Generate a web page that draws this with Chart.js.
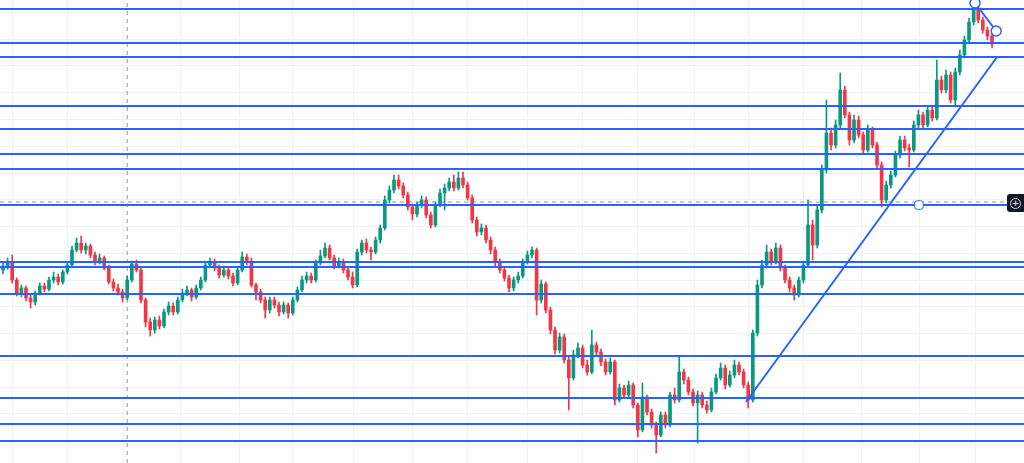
<!DOCTYPE html>
<html lang="en">

<head>
    <meta charset="UTF-8">
    <title>Price chart</title>
    <script src="https://cdn.jsdelivr.net/npm/chart.js"></script>
    <style>
        body { margin: 0; background: #ffffff; overflow: hidden; }
        .wrap { position: relative; width: 1024px; height: 463px; }
        canvas { display: block; }
        .zoom-btn {
            position: absolute; left: 1007px; top: 194px; width: 17px; height: 18px;
            background: #131722; border-radius: 3px 0 0 3px;
        }
        .zoom-btn span {
            position: absolute; left: 3px; top: 4px; width: 9px; height: 9px;
            border: 1px solid #d1d4dc; border-radius: 50%;
            color: #d1d4dc; font: bold 9px/9px "DejaVu Sans", sans-serif; text-align: center;
        }
    </style>
</head>

<body>
    <div class="wrap">
        <canvas id="priceChart" width="1024" height="463"></canvas>
        <div class="zoom-btn"><span>+</span></div>
    </div>

    <script>
        // candle values (one per bar, left to right)
        const open = [230,234,238,220,207,212,202,198,207,214,211,220,223,218,228,235,250,257,250,254,
            245,238,242,232,218,212,208,202,220,236,230,200,178,170,180,174,188,194,188,200,
            207,210,203,212,220,235,238,232,225,230,224,217,230,243,238,215,208,200,190,200,
            195,188,195,187,200,210,220,224,220,237,244,252,242,234,238,230,223,215,248,257,
            250,248,260,272,300,310,320,314,305,293,286,295,300,285,275,295,307,312,318,312,
            322,315,302,280,268,272,260,250,238,230,222,212,220,224,238,245,250,200,216,190,
            170,150,163,140,122,145,152,135,128,155,148,138,128,138,100,112,105,115,95,70,
            103,88,75,65,85,75,105,100,128,120,108,97,105,95,90,108,122,132,115,125,
            135,128,115,100,167,215,235,248,238,252,232,220,212,205,220,235,275,255,290,330,
            367,355,375,410,385,360,380,365,350,370,355,335,300,315,325,345,360,352,350,375,
            385,375,390,382,420,410,425,400,428,445,460,478,490,480,470,464];
        const close = [234,238,220,207,212,202,198,207,214,211,220,223,218,228,235,250,257,250,254,245,
            238,242,232,218,212,208,202,220,236,230,200,178,170,180,174,188,194,188,200,207,
            210,203,212,220,235,238,232,225,230,224,217,230,243,238,215,208,200,190,200,195,
            188,195,187,200,210,220,224,220,237,244,252,242,234,238,230,223,215,248,257,250,
            248,260,272,300,310,320,314,305,293,286,295,300,285,275,295,307,312,318,312,322,
            315,302,280,268,272,260,250,238,230,222,212,220,224,238,245,250,200,216,190,170,
            150,163,140,122,145,152,135,128,155,148,138,128,138,100,112,105,115,95,70,103,
            88,75,65,85,75,105,100,128,120,108,97,105,95,90,108,122,132,115,125,135,
            128,115,100,167,215,235,248,238,252,232,220,212,205,220,235,275,255,290,330,367,
            355,375,410,385,360,380,365,350,370,355,335,300,315,325,345,360,352,350,375,385,
            375,390,382,420,410,425,400,428,445,460,478,490,480,470,464,456];
        const high = [238,242,245,222,215,214,205,209,217,217,223,228,226,230,238,254,262,264,257,256,
            248,246,244,235,221,216,211,224,239,240,232,202,182,183,184,191,198,197,203,211,
            214,212,215,223,238,242,241,235,234,233,227,233,248,246,242,217,211,203,203,203,
            198,198,197,203,213,224,228,227,240,250,257,255,245,242,241,233,228,251,260,261,
            253,263,275,304,314,325,325,317,308,296,298,304,303,288,298,311,316,322,325,328,
            328,318,305,283,276,275,263,253,241,233,225,223,228,241,249,253,252,220,218,193,
            173,167,166,143,150,157,155,140,170,158,151,141,142,140,116,115,119,117,97,117,
            105,91,78,88,88,108,112,143,131,123,111,109,108,99,112,126,137,135,129,140,
            138,131,118,170,220,240,255,251,257,255,235,223,215,223,239,300,280,295,335,400,
            372,380,427,414,388,385,384,368,375,373,358,338,319,329,349,364,364,356,379,390,
            388,394,394,440,424,430,428,432,450,464,482,494,492,483,473,467];
        const low = [226,231,217,204,203,199,192,195,205,208,209,217,215,216,226,233,248,247,246,242,
            235,236,230,216,209,205,198,200,218,228,197,173,164,167,171,172,185,185,186,198,
            204,199,201,210,218,232,229,222,223,221,214,215,228,235,213,200,197,182,187,192,
            184,186,182,185,198,208,217,217,218,235,242,240,231,232,227,220,212,213,245,247,
            240,246,257,270,297,307,311,302,290,280,283,292,282,272,273,293,290,309,309,310,
            312,300,277,264,265,257,246,234,227,219,208,209,217,222,236,242,185,197,187,166,
            146,147,137,90,120,142,132,125,126,144,134,125,126,95,98,102,103,92,63,68,
            85,72,47,63,72,73,97,98,116,105,94,57,92,87,88,106,120,111,113,122,
            125,112,92,98,164,212,232,235,236,229,217,208,200,203,217,233,240,252,287,327,
            350,352,372,382,355,357,362,347,348,352,332,293,297,312,323,342,349,333,348,372,
            372,373,379,380,407,407,397,393,425,442,458,475,477,467,460,452];

        // horizontal support / resistance levels drawn on the chart
        const levels = [491, 457, 443, 394, 371, 346, 331, 295, 238, 233, 206, 144, 102, 76, 59];

        // trend lines: [bar, price] end points
        const trendUp = [[161.5, 98], [216.1, 443]];
        const trendTop = [[211.3, 497], [215.9, 469]];
        const levelHandle = [199.1, 295];

        // crosshair position
        const crossBar = 27;
        const crossPrice = 298;

        // grid positions (bar index / price)
        const gridBars = [2, 14, 26.3, 38.5, 51.5, 63, 76.3, 89, 101, 114, 126, 138, 150.4, 162, 174.1, 186.7, 199.3, 211.3];
        const gridPrices = [487.5, 460.7, 434, 407.2, 380.5, 353.7, 327, 300.2, 273.5, 246.7, 220, 193.2, 166.5, 139.7, 113, 86.2, 59.5];

        const xMin = -0.65, xMax = 221.95;
        const yMin = 37, yMax = 500;

        const upColor = '#089981';
        const downColor = '#f23645';
        const lineBlue = '#2962ff';

        const colors = open.map((o, i) => close[i] >= o ? upColor : downColor);

        const datasets = [];

        // level lines
        levels.forEach(lv => {
            datasets.push({
                type: 'line',
                data: [{ x: xMin, y: lv }, { x: xMax, y: lv }],
                borderColor: lineBlue,
                borderWidth: 2,
                pointRadius: 0,
                order: 1
            });
        });

        // crosshair
        datasets.push({
            type: 'line',
            data: [{ x: xMin, y: crossPrice }, { x: xMax, y: crossPrice }],
            borderColor: '#9598a1',
            borderWidth: 1,
            borderDash: [4, 4],
            pointRadius: 0,
            order: 4
        });
        datasets.push({
            type: 'line',
            data: [{ x: crossBar, y: yMin }, { x: crossBar, y: yMax }],
            borderColor: '#9598a1',
            borderWidth: 1,
            borderDash: [4, 4],
            pointRadius: 0,
            order: 4
        });

        // trend lines
        datasets.push({
            type: 'line',
            data: trendUp.map(p => ({ x: p[0], y: p[1] })),
            borderColor: lineBlue,
            borderWidth: 2,
            pointRadius: 0,
            order: 0
        });
        datasets.push({
            type: 'line',
            data: trendTop.map(p => ({ x: p[0], y: p[1] })),
            borderColor: lineBlue,
            borderWidth: 2,
            pointRadius: 5,
            pointBorderWidth: 1.5,
            pointBackgroundColor: '#ffffff',
            pointBorderColor: lineBlue,
            clip: false,
            order: 0
        });
        datasets.push({
            type: 'scatter',
            data: [{ x: levelHandle[0], y: levelHandle[1] }],
            pointStyle: 'rectRounded',
            pointRadius: 5,
            pointBorderWidth: 1,
            pointBackgroundColor: '#ffffff',
            pointBorderColor: lineBlue,
            order: 0
        });

        // wicks
        datasets.push({
            type: 'bar',
            data: open.map((o, i) => ({ x: i, y: [low[i], high[i]] })),
            backgroundColor: colors,
            barThickness: 1,
            grouped: false,
            order: 3
        });
        // bodies
        datasets.push({
            type: 'bar',
            data: open.map((o, i) => ({ x: i, y: [o, close[i]] })),
            backgroundColor: colors,
            barThickness: 3,
            minBarLength: 1,
            grouped: false,
            order: 2
        });

        new Chart(document.getElementById('priceChart'), {
            data: { datasets: datasets },
            options: {
                responsive: false,
                animation: false,
                devicePixelRatio: 1,
                layout: { padding: 0, autoPadding: false },
                plugins: {
                    legend: { display: false },
                    tooltip: { enabled: false }
                },
                scales: {
                    x: {
                        type: 'linear',
                        min: xMin,
                        max: xMax,
                        offset: false,
                        afterBuildTicks: axis => { axis.ticks = gridBars.map(v => ({ value: v })); },
                        ticks: { display: false, padding: 0 },
                        grid: { color: '#f0f1f3', drawTicks: false, offset: false },
                        border: { display: false }
                    },
                    y: {
                        type: 'linear',
                        min: yMin,
                        max: yMax,
                        afterBuildTicks: axis => { axis.ticks = gridPrices.map(v => ({ value: v })); },
                        ticks: { display: false, padding: 0 },
                        grid: { color: '#f0f1f3', drawTicks: false },
                        border: { display: false }
                    }
                }
            }
        });
    </script>
</body>

</html>
